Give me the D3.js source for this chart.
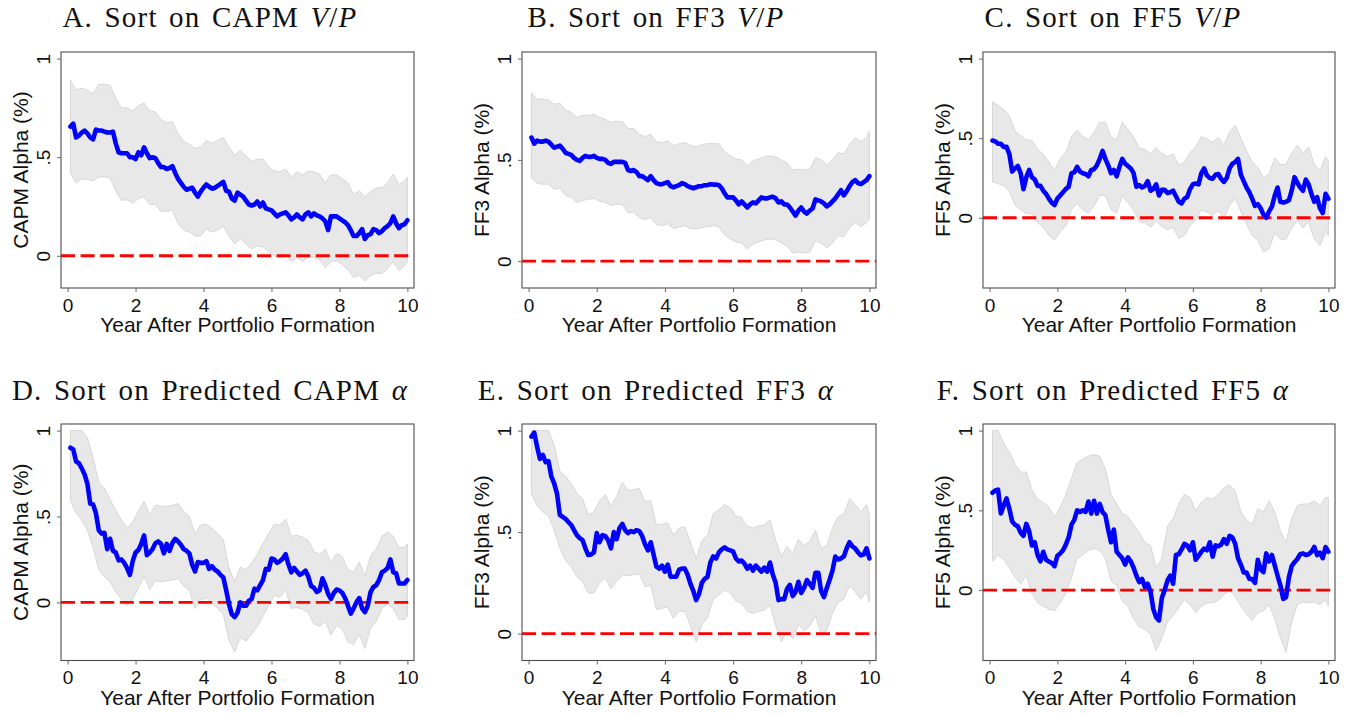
<!DOCTYPE html>
<html>
<head>
<meta charset="utf-8">
<script src="https://cdn.jsdelivr.net/npm/d3@7"></script>
<style>
  html, body { margin: 0; padding: 0; background: #ffffff; }
  svg { display: block; }
</style>
</head>
<body>
<svg id="chart" width="1359" height="714"></svg>
<script>
// Months after portfolio formation (alpha estimated every month, bands every other month)
const months = d3.range(1, 121);
const bandMonths = d3.range(1, 121, 2).concat([120]);

const xTicks = [0, 2, 4, 6, 8, 10];
const yTicks = [0, 0.5, 1];
const yTickLabels = ["0", ".5", "1"];

const titleLeads = [
  "A. Sort on CAPM", "B. Sort on FF3", "C. Sort on FF5",
  "D. Sort on Predicted CAPM", "E. Sort on Predicted FF3", "F. Sort on Predicted FF5"
];
const titleMath = ["V/P", "V/P", "V/P", "α", "α", "α"];
const yTitles = [
  "CAPM Alpha (%)", "FF3 Alpha (%)", "FF5 Alpha (%)",
  "CAPM Alpha (%)", "FF3 Alpha (%)", "FF5 Alpha (%)"
];
const xTitle = "Year After Portfolio Formation";
// lower end of each vertical axis
const yAxisMin = [-0.13, -0.1, -0.4, -0.3, -0.1, -0.4];

// Panel A: sort on CAPM V/P
const alphaA = [
  .655,.67,.60,.61,.625,.635,.62,.60,.59,.64,
  .635,.635,.63,.625,.625,.63,.57,.525,.52,.52,
  .52,.50,.50,.49,.525,.51,.55,.52,.495,.50,
  .495,.47,.45,.45,.44,.445,.455,.42,.39,.37,
  .35,.335,.34,.345,.32,.30,.325,.345,.362,.35,
  .34,.345,.355,.365,.375,.33,.325,.29,.28,.32,
  .31,.30,.28,.26,.255,.26,.275,.25,.27,.24,
  .235,.23,.215,.20,.21,.215,.22,.205,.185,.195,
  .21,.195,.185,.21,.22,.20,.215,.205,.20,.19,
  .175,.13,.20,.20,.20,.19,.18,.17,.155,.13,
  .10,.10,.115,.135,.085,.105,.11,.135,.13,.115,
  .125,.14,.15,.165,.20,.165,.14,.155,.16,.18
];
const upperA = [
  .89,.84,.85,.84,.82,.87,.87,.865,.80,.75,
  .75,.735,.76,.775,.735,.73,.69,.675,.68,.62,
  .58,.566,.545,.55,.585,.57,.585,.60,.55,.51,
  .535,.505,.48,.49,.49,.45,.43,.425,.44,.40,
  .425,.41,.43,.425,.415,.37,.41,.41,.39,.37,
  .31,.33,.30,.325,.345,.345,.37,.415,.36,.38,
  .40
];
const lowerA = [
  .42,.37,.39,.385,.38,.40,.40,.395,.33,.28,
  .285,.265,.29,.30,.26,.26,.225,.225,.23,.165,
  .13,.12,.10,.10,.135,.12,.13,.15,.10,.06,
  .085,.06,.035,.05,.045,.02,.00,-.01,.005,-.03,
  -.01,-.03,-.005,-.01,-.02,-.06,-.03,-.025,-.045,-.07,
  -.11,-.10,-.127,-.10,-.09,-.09,-.065,-.03,-.075,-.05,
  -.03
];

// Panel B: sort on FF3 V/P
const alphaB = [
  .61,.58,.595,.59,.59,.595,.59,.575,.56,.565,
  .57,.555,.535,.53,.525,.51,.50,.495,.51,.52,
  .515,.515,.52,.51,.505,.505,.50,.485,.48,.49,
  .49,.49,.49,.485,.45,.445,.45,.44,.42,.42,
  .41,.40,.42,.40,.385,.38,.38,.385,.39,.37,
  .365,.37,.375,.385,.38,.37,.365,.36,.365,.37,
  .37,.375,.375,.38,.378,.378,.375,.36,.335,.315,
  .315,.315,.30,.28,.295,.28,.265,.28,.29,.285,
  .30,.315,.31,.31,.315,.318,.31,.29,.295,.28,
  .28,.265,.245,.225,.25,.265,.245,.235,.25,.26,
  .305,.30,.295,.285,.27,.28,.295,.31,.33,.35,
  .325,.345,.37,.39,.40,.385,.38,.39,.40,.42
];
const upperB = [
  .83,.80,.80,.795,.775,.78,.745,.735,.71,.72,
  .72,.725,.71,.70,.685,.69,.69,.655,.655,.625,
  .615,.625,.59,.585,.595,.57,.58,.585,.57,.565,
  .575,.58,.58,.58,.54,.52,.505,.50,.47,.495,
  .505,.515,.52,.515,.50,.485,.45,.455,.45,.455,
  .51,.50,.475,.50,.535,.53,.575,.61,.59,.61,
  .64
];
const lowerB = [
  .41,.385,.38,.38,.355,.36,.325,.315,.29,.30,
  .305,.31,.295,.29,.275,.28,.28,.24,.24,.215,
  .205,.215,.18,.175,.185,.16,.17,.175,.16,.16,
  .165,.17,.175,.17,.13,.11,.095,.09,.06,.085,
  .095,.105,.11,.105,.09,.075,.04,.045,.04,.045,
  .10,.09,.065,.09,.125,.12,.165,.19,.17,.19,
  .21
];

// Panel C: sort on FF5 V/P
const alphaC = [
  .485,.48,.465,.465,.445,.445,.40,.29,.31,.325,
  .28,.18,.255,.30,.255,.24,.20,.20,.17,.15,
  .12,.095,.08,.12,.14,.16,.18,.195,.28,.285,
  .32,.29,.28,.275,.26,.30,.305,.33,.37,.42,
  .37,.33,.28,.30,.26,.32,.37,.34,.325,.31,
  .28,.195,.205,.19,.20,.23,.17,.18,.21,.14,
  .175,.175,.155,.16,.17,.135,.10,.09,.12,.13,
  .18,.21,.215,.21,.28,.31,.265,.25,.245,.27,
  .275,.245,.225,.25,.31,.34,.35,.37,.27,.23,
  .19,.16,.12,.075,.085,.06,.02,.00,.04,.07,
  .14,.19,.10,.095,.10,.11,.17,.255,.22,.19,
  .17,.24,.21,.15,.10,.13,.06,.03,.15,.12
];
const upperC = [
  .73,.705,.68,.64,.545,.515,.49,.485,.43,.40,
  .35,.30,.37,.41,.51,.55,.51,.49,.535,.60,
  .60,.51,.49,.60,.555,.51,.435,.43,.40,.44,
  .405,.385,.40,.33,.35,.41,.445,.51,.495,.475,
  .505,.455,.54,.58,.50,.42,.35,.315,.255,.275,
  .375,.335,.335,.405,.455,.405,.445,.335,.295,.385,
  .355
];
const lowerC = [
  .225,.215,.20,.165,.08,.05,.025,.025,-.03,-.06,
  -.11,-.14,-.09,-.05,.05,.09,.05,.03,.075,.14,
  .14,.05,.03,.14,.095,.05,-.025,-.03,-.06,-.02,
  -.055,-.075,-.06,-.13,-.11,-.05,-.015,.05,.035,.015,
  .045,-.005,.08,.12,.04,-.04,-.11,-.145,-.215,-.195,
  -.095,-.135,-.135,-.065,-.015,-.065,-.025,-.135,-.175,-.085,
  -.115
];

// Panel D: sort on predicted CAPM alpha
const alphaD = [
  .90,.89,.82,.81,.78,.745,.69,.575,.57,.52,
  .42,.40,.405,.31,.37,.30,.29,.245,.25,.23,
  .20,.16,.24,.29,.305,.34,.39,.275,.29,.31,
  .345,.355,.34,.285,.34,.30,.345,.37,.355,.335,
  .31,.30,.285,.22,.18,.235,.23,.23,.24,.195,
  .21,.19,.18,.16,.145,.07,-.01,-.07,-.085,-.06,
  .00,-.02,-.02,.01,.02,.08,.07,.10,.13,.195,
  .19,.255,.25,.23,.24,.255,.28,.22,.175,.20,
  .18,.16,.17,.185,.15,.095,.085,.06,.07,.14,
  .10,.05,.02,.055,.075,.07,.055,.025,-.02,-.065,
  -.035,.00,.025,-.035,-.057,-.02,.06,.09,.10,.13,
  .175,.185,.20,.25,.175,.17,.11,.11,.11,.13
];
const upperD = [
  1,1,1,.96,.84,.70,.665,.60,.535,.48,
  .43,.47,.53,.59,.51,.565,.56,.56,.565,.575,
  .53,.50,.40,.45,.455,.43,.40,.365,.20,.12,
  .205,.19,.23,.28,.34,.40,.455,.45,.485,.385,
  .39,.38,.36,.295,.28,.31,.23,.285,.265,.19,
  .175,.235,.155,.27,.31,.385,.41,.385,.32,.32,
  .34
];
const lowerD = [
  .59,.52,.48,.42,.32,.19,.15,.12,.06,.02,
  -.02,.02,.085,.15,.075,.125,.12,.125,.13,.14,
  .095,.07,-.035,.015,.025,-.005,-.035,-.07,-.22,-.29,
  -.205,-.225,-.185,-.14,-.08,-.02,.04,.03,.07,-.035,
  -.03,-.04,-.06,-.125,-.14,-.11,-.19,-.135,-.155,-.23,
  -.245,-.185,-.27,-.15,-.11,-.035,-.01,-.035,-.10,-.10,
  -.08
];

// Panel E: sort on predicted FF3 alpha
const alphaE = [
  .97,.99,.92,.86,.88,.845,.85,.775,.74,.69,
  .585,.575,.565,.55,.535,.51,.485,.47,.46,.42,
  .387,.39,.40,.495,.45,.485,.48,.46,.42,.50,
  .465,.52,.54,.51,.495,.505,.50,.51,.505,.48,
  .44,.41,.45,.39,.33,.32,.335,.305,.34,.28,
  .28,.28,.315,.32,.32,.29,.245,.21,.165,.195,
  .25,.27,.28,.35,.38,.37,.40,.415,.425,.415,
  .41,.405,.37,.355,.36,.345,.32,.335,.31,.335,
  .32,.305,.325,.305,.35,.29,.25,.165,.17,.17,
  .22,.24,.185,.205,.255,.20,.225,.264,.245,.225,
  .30,.30,.21,.18,.225,.265,.31,.38,.365,.37,
  .38,.42,.45,.43,.42,.40,.385,.39,.42,.37
];
const upperE = [
  1,1,1,1,.93,.80,.775,.74,.69,.665,
  .585,.60,.655,.685,.63,.675,.745,.705,.71,.715,
  .65,.655,.535,.54,.545,.485,.52,.525,.45,.37,
  .455,.485,.59,.61,.635,.62,.58,.57,.53,.52,
  .53,.535,.56,.46,.38,.43,.395,.465,.435,.455,
  .51,.42,.435,.52,.575,.59,.665,.635,.60,.635,
  .585
];
const lowerE = [
  .69,.63,.60,.58,.51,.42,.36,.33,.28,.255,
  .20,.20,.25,.275,.22,.26,.285,.285,.29,.295,
  .23,.24,.12,.125,.13,.075,.11,.11,.04,-.04,
  .045,.075,.17,.19,.215,.20,.16,.15,.11,.10,
  .11,.115,.14,.04,-.04,.01,-.025,.045,.015,.035,
  .09,.00,.015,.10,.155,.17,.235,.205,.17,.205,
  .155
];

// Panel F: sort on predicted FF5 alpha
const alphaF = [
  .61,.625,.63,.48,.53,.575,.51,.43,.41,.40,
  .36,.34,.415,.37,.28,.30,.22,.18,.24,.19,
  .18,.17,.15,.215,.23,.25,.285,.33,.41,.44,
  .50,.49,.50,.49,.555,.48,.56,.48,.54,.49,
  .47,.38,.30,.38,.24,.22,.20,.16,.205,.18,
  .14,.09,.05,.07,.02,.04,-.01,-.12,-.17,-.19,
  -.05,.00,.06,.09,.04,.22,.225,.255,.29,.28,
  .25,.30,.19,.215,.24,.26,.25,.30,.21,.28,
  .275,.285,.32,.29,.34,.33,.29,.20,.16,.11,
  .11,.07,.07,.045,.19,.13,.113,.23,.18,.22,
  .155,.09,.03,-.055,-.045,.08,.15,.175,.195,.225,
  .23,.22,.225,.24,.27,.22,.235,.20,.27,.24
];
const upperF = [
  1,1,.92,.87,.79,.74,.74,.63,.57,.55,
  .52,.46,.52,.60,.70,.80,.82,.84,.85,.84,
  .76,.60,.54,.48,.46,.41,.36,.30,.28,.14,
  .20,.40,.45,.54,.60,.58,.50,.55,.58,.57,
  .60,.64,.66,.62,.49,.44,.41,.51,.49,.56,
  .49,.37,.30,.45,.53,.54,.54,.56,.53,.58,
  .58
];
const lowerF = [
  .18,.22,.19,.14,.08,.04,.09,-.02,-.08,-.10,
  -.12,-.13,-.08,-.02,.08,.20,.22,.25,.26,.25,
  .20,.06,.03,-.07,-.10,-.18,-.23,-.245,-.28,-.38,
  -.30,-.20,-.16,-.11,-.06,-.09,-.14,-.10,-.08,-.08,
  -.065,-.03,.00,-.04,-.10,-.15,-.19,-.14,-.13,-.09,
  -.18,-.30,-.39,-.20,-.09,-.075,-.08,-.075,-.09,-.06,
  -.10
];

const alphaSeries = [alphaA, alphaB, alphaC, alphaD, alphaE, alphaF];
const upperSeries = [upperA, upperB, upperC, upperD, upperE, upperF];
const lowerSeries = [lowerA, lowerB, lowerC, lowerD, lowerE, lowerF];

// ---- layout ----
const colLeft = [61, 522, 983];
const colRight = [414, 876, 1335];
const rowTop = [52, 424];
const rowBottom = [288, 660.5];
const titleCenter = [210, 656, 1113];
const titleBaseline = [27, 400];
const inset = 6.6;

const sans = "'Liberation Sans', Arial, Helvetica, sans-serif";
const serif = "'Liberation Serif', 'Times New Roman', serif";

const svg = d3.select("#chart");
svg.append("rect").attr("width", 1359).attr("height", 714).attr("fill", "#ffffff");

for (let p = 0; p < 6; p++) {
  const col = p % 3, row = Math.floor(p / 3);
  const left = colLeft[col], right = colRight[col];
  const top = rowTop[row], bottom = rowBottom[row];

  const x = d3.scaleLinear().domain([0, 10]).range([left + inset, right - inset]);
  const y = d3.scaleLinear().domain([yAxisMin[p], 1]).range([bottom - inset, top + inset]);

  const g = svg.append("g").attr("class", "panel");

  // title
  const t = g.append("text")
    .attr("x", titleCenter[col]).attr("y", titleBaseline[row])
    .attr("text-anchor", "middle")
    .attr("font-family", serif).attr("font-size", 29)
    .attr("letter-spacing", "1.2px").attr("word-spacing", "3px")
    .attr("fill", "#111");
  t.append("tspan").text(titleLeads[p] + " ");
  if (titleMath[p] === "V/P") {
    t.append("tspan").attr("font-style", "italic").text("V");
    t.append("tspan").text("/");
    t.append("tspan").attr("font-style", "italic").text("P");
  } else {
    t.append("tspan").attr("font-style", "italic").text(titleMath[p]);
  }

  // confidence band
  const bandData = bandMonths.map((m, i) => ({ m, lo: lowerSeries[p][i], hi: upperSeries[p][i] }));
  const area = d3.area()
    .x(d => x(d.m / 12))
    .y0(d => y(d.lo))
    .y1(d => y(d.hi));
  g.append("path").datum(bandData)
    .attr("d", area)
    .attr("fill", "#e8e8e8")
    .attr("stroke", "#d4d4d4")
    .attr("stroke-width", 0.9);

  // zero reference line
  g.append("line")
    .attr("x1", left).attr("x2", right)
    .attr("y1", y(0)).attr("y2", y(0))
    .attr("stroke", "#ff0000")
    .attr("stroke-width", 2.8)
    .attr("stroke-dasharray", "14,5.6");

  // alpha line
  const lineData = months.map((m, i) => ({ m, v: alphaSeries[p][i] }));
  const line = d3.line().x(d => x(d.m / 12)).y(d => y(d.v));
  g.append("path").datum(lineData)
    .attr("d", line)
    .attr("fill", "none")
    .attr("stroke", "#0000ff")
    .attr("stroke-width", 4.6)
    .attr("stroke-linejoin", "round")
    .attr("stroke-linecap", "round");

  // frame
  g.append("rect")
    .attr("x", left).attr("y", top)
    .attr("width", right - left).attr("height", bottom - top)
    .attr("fill", "none").attr("stroke", "#4d4d4d").attr("stroke-width", 1.1);

  // y axis
  const yAxis = d3.axisLeft(y).tickValues(yTicks)
    .tickFormat((d, i) => yTickLabels[i]).tickSize(4).tickPadding(0);
  const ya = g.append("g").attr("transform", `translate(${left},0)`).call(yAxis);
  ya.select(".domain").remove();
  ya.selectAll(".tick line").attr("stroke", "#666").attr("stroke-width", 1);
  ya.selectAll(".tick text")
    .attr("transform", "rotate(-90)")
    .attr("x", 0).attr("y", -11).attr("dy", 0)
    .attr("text-anchor", "middle")
    .attr("font-family", sans).attr("font-size", 19).attr("fill", "#111");

  // x axis
  const xAxis = d3.axisBottom(x).tickValues(xTicks).tickSize(4).tickPadding(0);
  const xa = g.append("g").attr("transform", `translate(0,${bottom})`).call(xAxis);
  xa.select(".domain").remove();
  xa.selectAll(".tick line").attr("stroke", "#666").attr("stroke-width", 1);
  xa.selectAll(".tick text")
    .attr("y", 23.5).attr("dy", 0)
    .attr("font-family", sans).attr("font-size", 19).attr("fill", "#111");

  // axis titles
  g.append("text")
    .attr("transform", `translate(${left - 33},${(top + bottom) / 2}) rotate(-90)`)
    .attr("text-anchor", "middle")
    .attr("font-family", sans).attr("font-size", 21).attr("fill", "#111")
    .text(yTitles[p]);
  g.append("text")
    .attr("x", (left + right) / 2).attr("y", bottom + 44)
    .attr("text-anchor", "middle")
    .attr("font-family", sans).attr("font-size", 21).attr("fill", "#111")
    .text(xTitle);
}
</script>
</body>
</html>
